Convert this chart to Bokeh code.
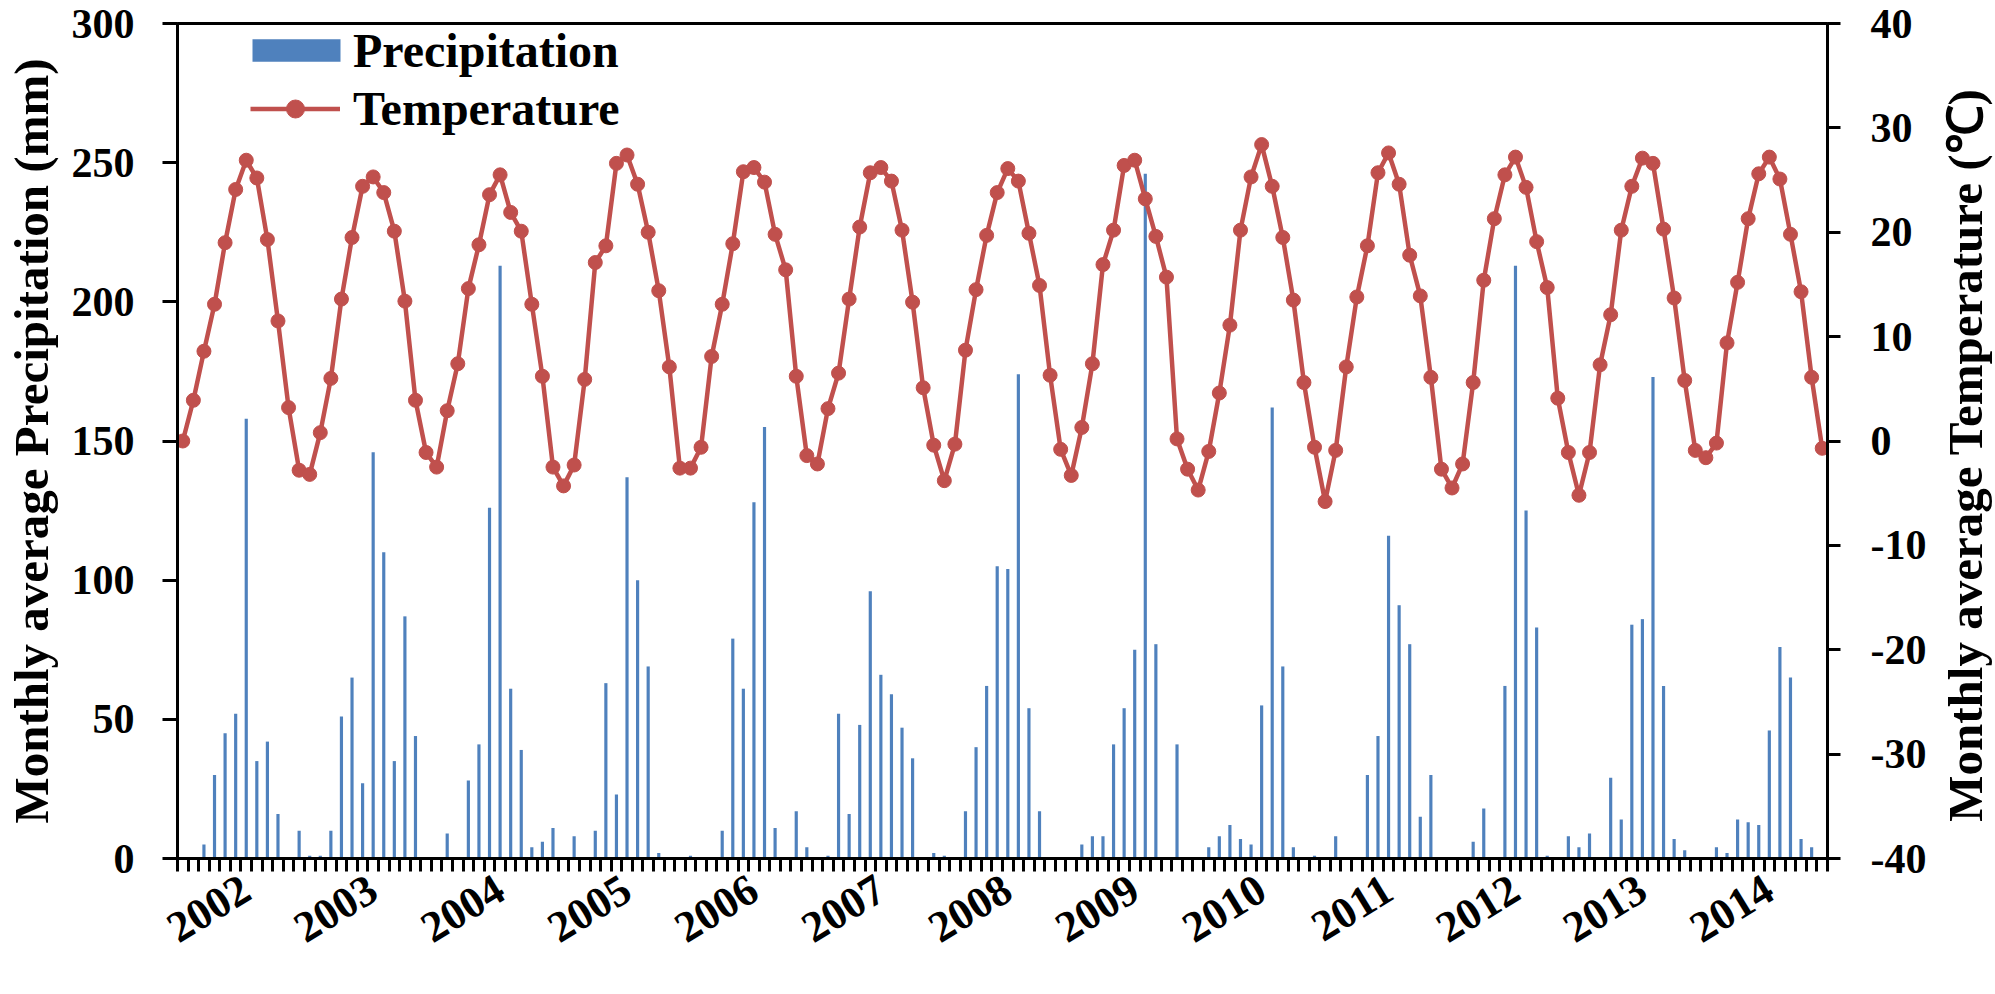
import math
from bokeh.plotting import figure
from bokeh.models import (Range1d, LinearAxis, FixedTicker, Legend, LegendItem,
                          ColumnDataSource)
from bokeh.embed import file_html
from bokeh.resources import INLINE

years = [str(y) for y in range(2002, 2015)]

# monthly average precipitation (mm), Jan..Dec for 2002..2014
precipitation = [
    0, 0, 5, 30, 45, 52, 158, 35, 42, 16, 0, 10,        # 2002
    1, 1, 10, 51, 65, 27, 146, 110, 35, 87, 44, 0,      # 2003
    0, 9, 0, 28, 41, 126, 213, 61, 39, 4, 6, 11,        # 2004
    0, 8, 0, 10, 63, 23, 137, 100, 69, 2, 0, 0,         # 2005
    1, 0, 0, 10, 79, 61, 128, 155, 11, 0, 17, 4,        # 2006
    0, 1, 52, 16, 48, 96, 66, 59, 47, 36, 0, 2,         # 2007
    1, 0, 17, 40, 62, 105, 104, 174, 54, 17, 0, 0,      # 2008
    0, 5, 8, 8, 41, 54, 75, 246, 77, 0, 41, 0,          # 2009
    0, 4, 8, 12, 7, 5, 55, 162, 69, 4, 0, 1,            # 2010
    0, 8, 0, 0.5, 30, 44, 116, 91, 77, 15, 30, 0,       # 2011
    0, 0, 6, 18, 0, 62, 213, 125, 83, 1, 0, 8,          # 2012
    4, 9, 0, 29, 14, 84, 86, 173, 62, 7, 3, 0,          # 2013
    0, 4, 2, 14, 13, 12, 46, 76, 65, 7, 4, 0,           # 2014
]

# monthly average temperature (deg C), Jan..Dec for 2002..2014
temperature = [
    0.0, 3.9, 8.6, 13.1, 19.0, 24.1, 26.9, 25.2, 19.3, 11.5, 3.2, -2.8,
    -3.2, 0.8, 6.0, 13.6, 19.5, 24.4, 25.3, 23.8, 20.1, 13.4, 3.9, -1.1,
    -2.5, 2.9, 7.4, 14.6, 18.8, 23.6, 25.5, 21.9, 20.1, 13.1, 6.2, -2.5,
    -4.3, -2.3, 5.9, 17.1, 18.7, 26.6, 27.4, 24.6, 20.0, 14.4, 7.1, -2.6,
    -2.6, -0.6, 8.1, 13.1, 18.9, 25.8, 26.2, 24.8, 19.8, 16.4, 6.2, -1.4,
    -2.2, 3.1, 6.5, 13.6, 20.5, 25.7, 26.2, 24.9, 20.2, 13.3, 5.1, -0.4,
    -3.8, -0.3, 8.7, 14.5, 19.7, 23.8, 26.1, 24.9, 19.9, 14.9, 6.3, -0.8,
    -3.3, 1.3, 7.4, 16.9, 20.2, 26.4, 26.9, 23.2, 19.6, 15.7, 0.2, -2.7,
    -4.7, -1.0, 4.6, 11.1, 20.2, 25.3, 28.4, 24.4, 19.5, 13.5, 5.6, -0.6,
    -5.8, -0.9, 7.1, 13.8, 18.7, 25.7, 27.6, 24.6, 17.8, 13.9, 6.1, -2.7,
    -4.5, -2.2, 5.6, 15.4, 21.3, 25.5, 27.2, 24.3, 19.1, 14.7, 4.1, -1.1,
    -5.2, -1.1, 7.3, 12.1, 20.2, 24.4, 27.1, 26.6, 20.3, 13.7, 5.8, -0.9,
    -1.6, -0.2, 9.4, 15.2, 21.3, 25.6, 27.2, 25.1, 19.8, 14.3, 6.1, -0.7,
]

precip_ticks = [0, 50, 100, 150, 200, 250, 300]
temp_ticks = [-40, -30, -20, -10, 0, 10, 20, 30, 40]

n = len(precipitation)
months = list(range(n))

FONT = "Liberation Serif"
BLUE = "#4F81BD"
RED = "#C0504D"

FRAME_W = 1650
FRAME_H = 835

p = figure(frame_width=FRAME_W, frame_height=FRAME_H,
           x_range=Range1d(-0.5, n - 0.5), y_range=Range1d(0, 300),
           output_backend="svg", toolbar_location=None,
           min_border_left=164, min_border_right=165,
           min_border_top=23, min_border_bottom=120)
p.extra_y_ranges = {"temp": Range1d(-40, 40)}
p.xgrid.visible = False
p.ygrid.visible = False
p.outline_line_color = "black"
p.outline_line_width = 3
p.background_fill_color = "white"
p.border_fill_color = "white"

src = ColumnDataSource(dict(x=months, precip=precipitation, temp=temperature))

bars = p.vbar(x="x", top="precip", bottom=0, width=0.3, source=src,
              fill_color=BLUE, line_color=None)
line = p.line("x", "temp", source=src, y_range_name="temp",
              line_color=RED, line_width=4.5)
pts = p.scatter("x", "temp", source=src, y_range_name="temp", marker="circle",
                size=14, fill_color=RED, line_color=RED, line_width=1)

# x axis: year labels at July of each year, small ticks at every month boundary
xa = p.xaxis[0]
year_pos = [12 * k + 6 for k in range(len(years))]
xa.ticker = FixedTicker(ticks=year_pos, minor_ticks=[i - 0.5 for i in range(n + 1)])
xa.major_label_overrides = {pos: yr for pos, yr in zip(year_pos, years)}
xa.major_label_orientation = 0.55
xa.major_tick_line_color = None
xa.major_tick_out = 0
xa.major_tick_in = 0
xa.minor_tick_out = 13
xa.minor_tick_in = 0
xa.minor_tick_line_width = 3
xa.minor_tick_line_color = "black"
xa.axis_line_width = 3
xa.axis_line_color = "black"
xa.major_label_standoff = 14
xa.major_label_text_font = FONT
xa.major_label_text_font_style = "bold"
xa.major_label_text_font_size = "44px"
xa.major_label_text_color = "black"

ya = p.yaxis[0]
ya.ticker = FixedTicker(ticks=precip_ticks)
ya.axis_label = "Monthly average Precipitation (mm)"
ya.minor_tick_line_color = None
ya.major_tick_out = 15
ya.major_tick_in = 0
ya.major_tick_line_width = 3
ya.axis_line_width = 3
ya.major_label_standoff = 28
ya.major_label_text_font = FONT
ya.major_label_text_font_style = "bold"
ya.major_label_text_font_size = "42px"
ya.major_label_text_color = "black"
ya.axis_label_text_font = FONT
ya.axis_label_text_font_style = "bold"
ya.axis_label_text_font_size = "49px"
ya.axis_label_text_color = "black"
ya.axis_label_standoff = 10

# leading no-break spaces lift the title off the lower end of the axis
ra = LinearAxis(y_range_name="temp", ticker=FixedTicker(ticks=temp_ticks),
                axis_label="\u00a0\u00a0\u00a0Monthly average Temperature (\u2103)")
ra.major_label_overrides = {t: str(t) for t in temp_ticks}
ra.minor_tick_line_color = None
ra.major_tick_out = 13
ra.major_tick_in = 0
ra.major_tick_line_width = 3
ra.axis_line_width = 3
ra.major_label_standoff = 30
ra.major_label_text_font = FONT
ra.major_label_text_font_style = "bold"
ra.major_label_text_font_size = "42px"
ra.major_label_text_color = "black"
ra.axis_label_text_font = FONT
ra.axis_label_text_font_style = "bold"
ra.axis_label_text_font_size = "49px"
ra.axis_label_text_color = "black"
ra.axis_label_standoff = 36
# read bottom-to-top like the left title; text starts from the lower end
ra.axis_label_orientation = math.pi / 2
ra.axis_label_align = "start"
p.add_layout(ra, "right")

def make_legend(item, loc, gw, gh, standoff):
    return Legend(items=[item], location=loc, orientation="vertical",
                  glyph_width=gw, glyph_height=gh, label_height=56,
                  label_standoff=standoff, padding=0, margin=0, spacing=0,
                  border_line_color=None, background_fill_alpha=0,
                  label_text_font=FONT, label_text_font_style="bold",
                  label_text_font_size="48px", label_text_color="black")

leg1 = make_legend(LegendItem(label="Precipitation", renderers=[bars]),
                   (64, 780), 110, 28, 2)
leg2 = make_legend(LegendItem(label="Temperature", renderers=[line, pts]),
                   (73, 722), 90, 45, 13)
p.add_layout(leg1)
p.add_layout(leg2)

open("out.html", "w").write(file_html(p, INLINE))
